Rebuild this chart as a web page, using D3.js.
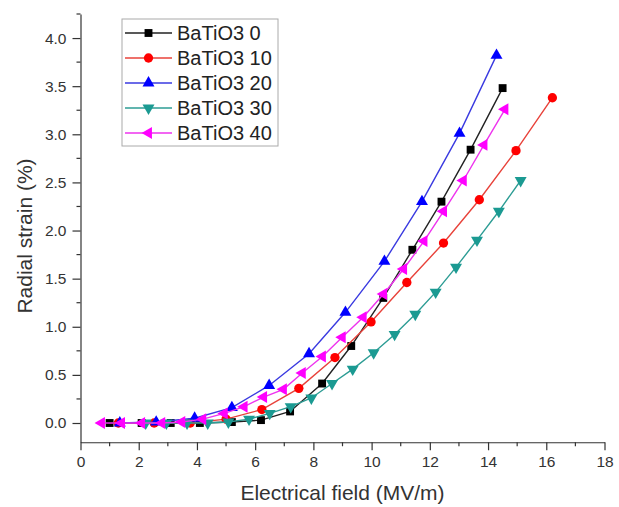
<!DOCTYPE html>
<html><head><meta charset="utf-8">
<script src="https://cdn.jsdelivr.net/npm/d3@7"></script>
<style>
body{margin:0;background:#fff;}
text{font-family:"Liberation Sans",Arial,sans-serif;}
</style></head>
<body><svg id="c" width="619" height="507"></svg>
<script>
const seriesNames = ["BaTiO3 0","BaTiO3 10","BaTiO3 20","BaTiO3 30","BaTiO3 40"];
const seriesColors = ["#000000","#ff0000","#0000ff","#1b9a92","#ff00ff"];
const lineColors = ["#222222","#e8423a","#3a3ae0","#2c9c94","#ee33ee"];
const seriesSymbols = ["square","circle","triangleUp","triangleDown","triangleLeft"];

const x0 = [1.0,2.1,3.1,4.1,5.2,6.2,7.2,8.3,9.3,10.4,11.4,12.4,13.4,14.5];
const y0 = [0,0,0,0,0.01,0.03,0.12,0.41,0.80,1.30,1.80,2.30,2.84,3.48];
const x10 = [1.3,2.53,3.77,5.0,6.23,7.5,8.74,9.98,11.21,12.47,13.7,14.96,16.21];
const y10 = [0,0,0,0.04,0.14,0.36,0.68,1.05,1.46,1.87,2.32,2.83,3.38];
const x20 = [1.35,2.6,3.92,5.2,6.48,7.85,9.1,10.44,11.73,13.02,14.29];
const y20 = [0,0.01,0.05,0.16,0.39,0.72,1.15,1.68,2.30,3.01,3.82];
const x30 = [2.24,2.95,3.66,4.37,5.08,5.79,6.5,7.22,7.93,8.64,9.35,10.07,10.79,11.5,12.2,12.9,13.62,14.37,15.12];
const y30 = [0,0,0,0,0.01,0.04,0.10,0.17,0.26,0.41,0.56,0.73,0.92,1.13,1.36,1.62,1.90,2.20,2.52];
const x40 = [0.72,1.41,2.1,2.79,3.48,4.2,4.94,5.62,6.29,6.97,7.62,8.31,8.99,9.71,10.41,11.1,11.8,12.47,13.15,13.86,14.58];
const y40 = [0,0,0,0,0.01,0.04,0.10,0.17,0.27,0.35,0.52,0.69,0.89,1.10,1.34,1.60,1.89,2.20,2.52,2.89,3.26];

const xTicks = [0,2,4,6,8,10,12,14,16,18];
const yTicks = [0,0.5,1,1.5,2,2.5,3,3.5,4];
const xTitle = "Electrical field (MV/m)";
const yTitle = "Radial strain (%)";

const xs = [x0,x10,x20,x30,x40], ys=[y0,y10,y20,y30,y40];
const data = seriesNames.map((n,i)=>({name:n,color:seriesColors[i],lc:lineColors[i],sym:seriesSymbols[i],
  pts:xs[i].map((v,j)=>[v,ys[i][j]])}));

const svg = d3.select("#c");
const L=80.5, R=604.5;
const x = d3.scaleLinear().domain([0,18]).range([L,R]);
const y = d3.scaleLinear().domain([-0.2,4.25]).range([442.25,14]);

const axColor="#333";
const xMinor = d3.range(0,18.01,1).filter(v=>v%2!==0);
const yMinor = d3.range(0.25,4.26,0.5);

const gx = svg.append("g").attr("transform",`translate(0,${y(-0.2)})`)
  .call(d3.axisBottom(x).tickValues(xTicks).tickSize(8).tickPadding(6).tickSizeOuter(0).tickFormat(d3.format("d")));
gx.append("g").selectAll("line").data(xMinor).join("line")
  .attr("x1",d=>x(d)).attr("x2",d=>x(d)).attr("y1",0).attr("y2",4).attr("stroke",axColor);
const gy = svg.append("g").attr("transform",`translate(${L},0)`)
  .call(d3.axisLeft(y).tickValues(yTicks).tickSize(8).tickPadding(6).tickSizeOuter(0).tickFormat(d3.format(".1f")));
gy.append("g").selectAll("line").data(yMinor).join("line")
  .attr("y1",d=>y(d)).attr("y2",d=>y(d)).attr("x1",0).attr("x2",-4).attr("stroke",axColor);
[gx,gy].forEach(g=>{
  g.selectAll(".domain,line").attr("stroke",axColor).attr("stroke-width",1.2);
  g.selectAll("text").attr("font-size",15.5).attr("fill","#333").attr("font-family","Liberation Sans, Arial, sans-serif");
});

svg.append("text").attr("x",(L+R)/2).attr("y",500).attr("text-anchor","middle")
  .attr("font-size",21).attr("fill","#333").text(xTitle);
svg.append("text").attr("transform",`translate(32,236) rotate(-90)`).attr("text-anchor","middle")
  .attr("font-size",21).attr("fill","#333").text(yTitle);

const symMap={square:d3.symbolSquare,circle:d3.symbolCircle,triangleUp:d3.symbolTriangle,triangleDown:d3.symbolTriangle,triangleLeft:d3.symbolTriangle};
const rot={square:0,circle:0,triangleUp:0,triangleDown:180,triangleLeft:-90};
const size={square:62,circle:68,triangleUp:62,triangleDown:62,triangleLeft:62};
function marker(g,s,color,cx,cy){
  g.append("path").attr("d",d3.symbol(symMap[s],size[s])()).attr("fill",color)
   .attr("transform",`translate(${cx},${cy}) rotate(${rot[s]})`);
}
const line = d3.line().x(d=>x(d[0])).y(d=>y(d[1]));
data.forEach(s=>{
  const g=svg.append("g");
  g.append("path").datum(s.pts).attr("d",line).attr("fill","none").attr("stroke",s.lc).attr("stroke-width",1.4);
  s.pts.forEach(p=>marker(g,s.sym,s.color,x(p[0]),y(p[1])));
});

const lg = svg.append("g");
lg.append("rect").attr("x",122).attr("y",19).attr("width",156).attr("height",127)
  .attr("fill","#fff").attr("stroke","#aaa").attr("stroke-width",1);
data.forEach((s,i)=>{
  const yy=33+i*25;
  lg.append("line").attr("x1",125).attr("x2",172).attr("y1",yy).attr("y2",yy).attr("stroke",s.lc).attr("stroke-width",1.4);
  marker(lg,s.sym,s.color,148.5,yy);
  lg.append("text").attr("x",177).attr("y",yy+7).attr("font-size",20).attr("fill","#222").text(s.name);
});
</script></body></html>
